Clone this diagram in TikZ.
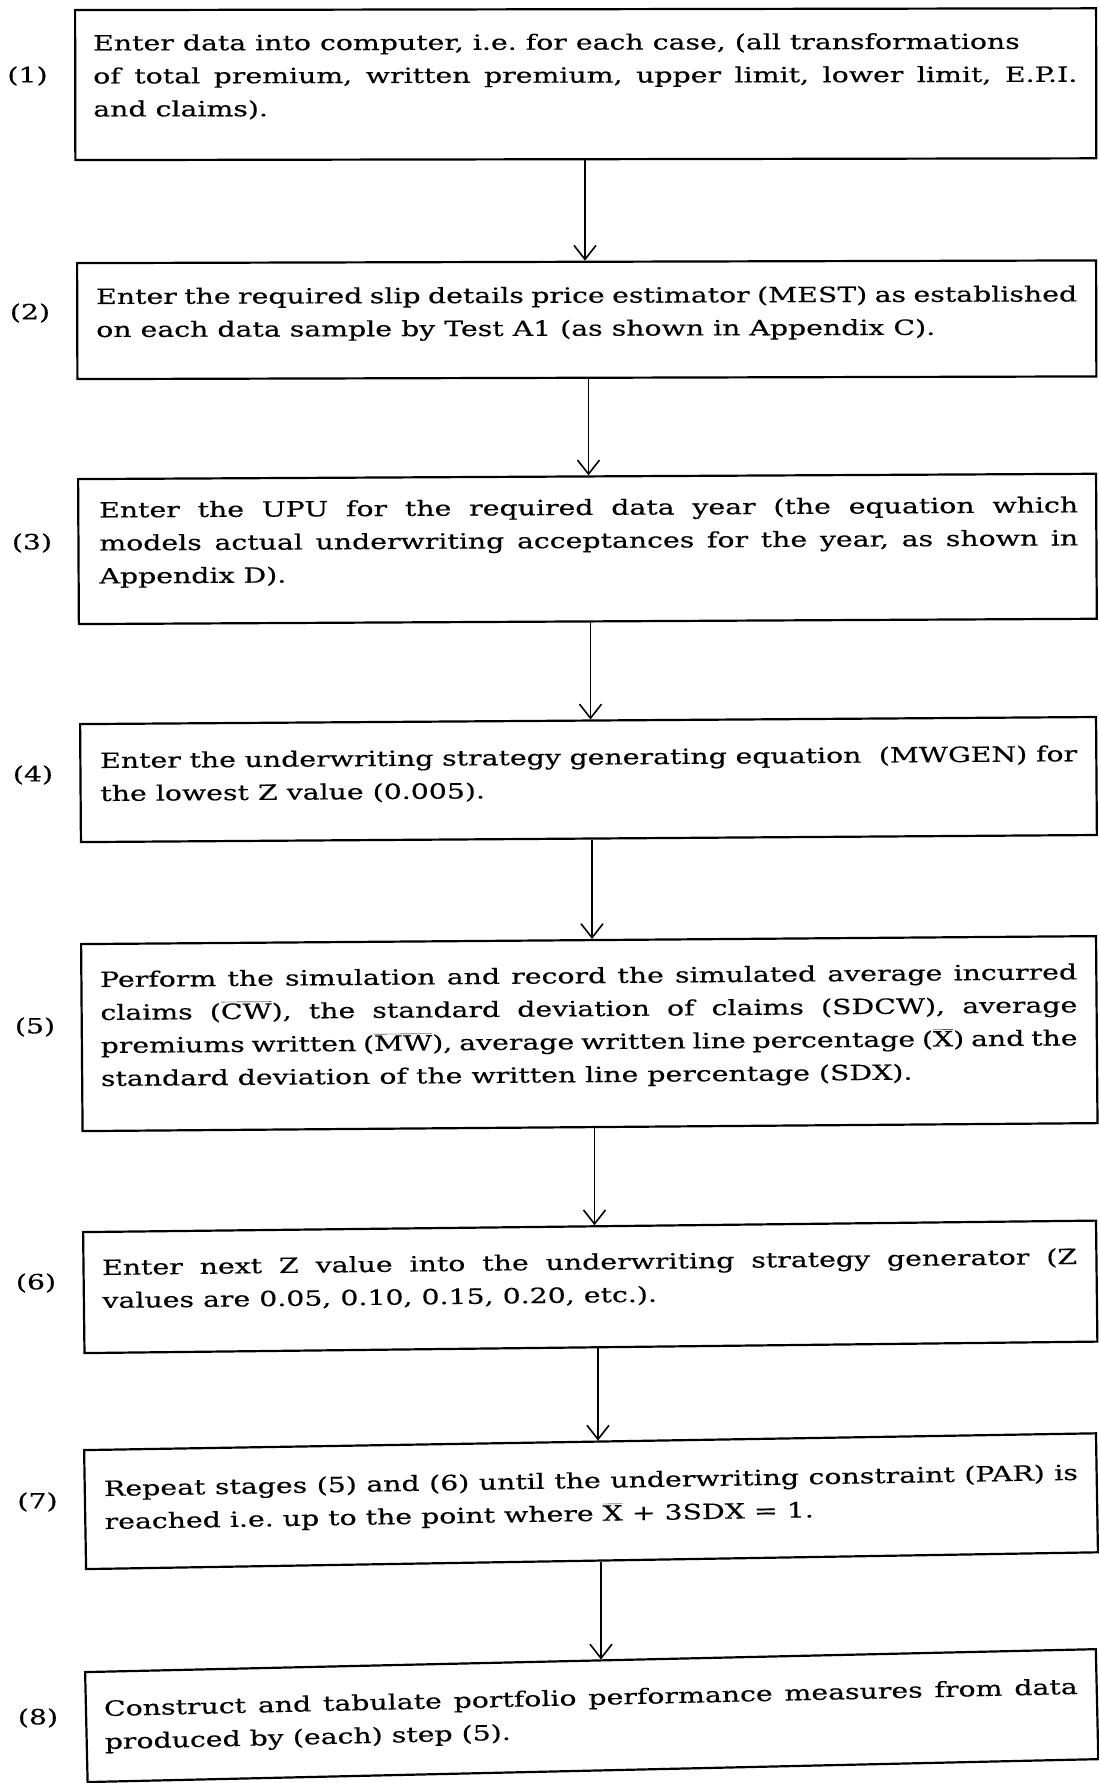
\documentclass[tikz,border=0pt]{standalone}
\usepackage{fontspec}
\setmainfont{DejaVu Serif}[FakeStretch=1.35,FakeBold=0.4]
\usetikzlibrary{arrows.meta}
\newcommand\jl[1]{\hbox to \hsize{#1}}
\newcommand\rl[1]{\hbox{#1}}
\newcommand\ovl[1]{$\overline{\hbox{#1}}$}
\begin{document}
\begin{tikzpicture}[x=1pt,y=-1pt,
  every node/.style={font=\fontsize{21}{33}\selectfont\frenchspacing},
  box/.style={draw,line width=2.2pt,anchor=north west,inner sep=0pt,
    minimum width=1095-#1},
  txt/.style={anchor=base west,inner sep=0pt},
  lab/.style={inner sep=0pt},
  arr/.style={line width=1.6pt,-{Straight Barb[length=14pt,width=22pt,line width=1.6pt]}}]
\useasboundingbox (0,0) rectangle (1098,1783);
\fill[white] (0,0) rectangle (1098,1783);

% boxes
\node[box=74,minimum height=150,rotate=0.1]  (b1) at (74,9) {};
\node[box=76,minimum height=116,rotate=0.15] (b2) at (76,262) {};
\node[box=77,minimum height=145,rotate=0.3]  (b3) at (77,478) {};
\node[box=79,minimum height=118,rotate=0.4]  (b4) at (79,723) {};
\node[box=80,minimum height=187,rotate=0.45] (b5) at (80,943) {};
\node[box=82,minimum height=121,rotate=0.65] (b6) at (82,1231) {};
\node[box=83,minimum height=119,rotate=0.95] (b7) at (83,1449) {};
\node[box=84,minimum height=110,rotate=1.3]  (b8) at (84,1671) {};

% texts
\node[txt,rotate=0.1] (t1) at (93,50.5) {\begin{minipage}[t]{984pt}
\rl{Enter data into computer, i.e. for each case, (all transformations}
\jl{of total premium, written premium, upper limit, lower limit, E.P.I.}
\rl{and claims).}\end{minipage}};

\node[txt,rotate=0.15] (t2) at (96,304) {\begin{minipage}[t]{981pt}
\jl{Enter the required slip details price estimator (MEST) as established}
\rl{on each data sample by Test A1 (as shown in Appendix C).}\end{minipage}};

\node[txt,rotate=0.3] (t3) at (99,517.5) {\begin{minipage}[t]{979pt}
\jl{Enter the UPU for the required data year (the equation which}
\jl{models actual underwriting acceptances for the year, as shown in}
\rl{Appendix D).}\end{minipage}};

\node[txt,rotate=0.4] (t4) at (100,768) {\begin{minipage}[t]{977pt}
\jl{Enter the underwriting strategy generating equation\ \ (MWGEN) for}
\rl{the lowest Z value (0.005).}\end{minipage}};

\node[txt,rotate=0.45] (t5) at (100,987) {\begin{minipage}[t]{977pt}
\jl{Perform the simulation and record the simulated average incurred}
\jl{claims (\ovl{CW}), the standard deviation of claims (SDCW), average}
\jl{premiums written (\ovl{MW}), average written line percentage (\ovl{X}) and the}
\rl{standard deviation of the written line percentage (SDX).}\end{minipage}};

\node[txt,rotate=0.65] (t6) at (102,1275) {\begin{minipage}[t]{975pt}
\jl{Enter next Z value into the underwriting strategy generator (Z}
\rl{values are 0.05, 0.10, 0.15, 0.20, etc.).}\end{minipage}};

\node[txt,rotate=0.95] (t7) at (104,1496) {\begin{minipage}[t]{974pt}
\jl{Repeat stages (5) and (6) until the underwriting constraint (PAR) is}
\rl{reached i.e. up to the point where \ovl{X} + 3SDX = 1.}\end{minipage}};

\node[txt,rotate=1.3] (t8) at (104,1716) {\begin{minipage}[t]{974pt}
\jl{Construct and tabulate portfolio performance measures from data}
\rl{produced by (each) step (5).}\end{minipage}};

% labels
\node[lab] (l1) at (27.5,76) {(1)};
\node[lab] (l2) at (30,313) {(2)};
\node[lab] (l3) at (32,543) {(3)};
\node[lab] (l4) at (33,775) {(4)};
\node[lab] (l5) at (35,1027) {(5)};
\node[lab] (l6) at (36,1283) {(6)};
\node[lab] (l7) at (37.5,1502) {(7)};
\node[lab] (l8) at (38,1718) {(8)};

% connectors
\draw[arr] (b1.south -| 585,0) -- (b2.north -| 585,0);
\draw[arr] (b2.south -| 588.5,0) -- (b3.north -| 588.5,0);
\draw[arr] (b3.south -| 590.5,0) -- (b4.north -| 590.5,0);
\draw[arr] (b4.south -| 592,0) -- (b5.north -| 592,0);
\draw[arr] (b5.south -| 594.5,0) -- (b6.north -| 594.5,0);
\draw[arr] (b6.south -| 598,0) -- (b7.north -| 598,0);
\draw[arr] (b7.south -| 601,0) -- (b8.north -| 601,0);
\end{tikzpicture}
\end{document}
